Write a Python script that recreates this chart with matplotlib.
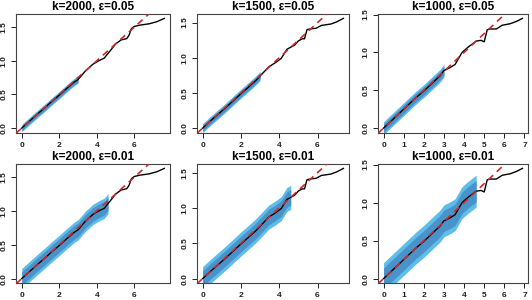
import numpy as np
import matplotlib
matplotlib.use("Agg")
import matplotlib.pyplot as plt
from matplotlib.ticker import FixedLocator, FormatStrFormatter

# ---- data ----
k_values = [2000, 1500, 1000]
eps_values = [0.05, 0.01]

x2000 = [0, 0.4, 0.8, 1.2, 1.6, 2.0, 2.4, 2.8, 3.0, 3.4, 3.8, 4.1, 4.4, 4.6, 4.75, 5.0, 5.3, 5.6, 5.72, 5.85, 6.0, 6.3, 6.8, 7.2, 7.6]
y2000 = [0, 0.10, 0.20, 0.295, 0.395, 0.49, 0.59, 0.685, 0.72, 0.85, 0.95, 1.00, 1.04, 1.11, 1.16, 1.25, 1.31, 1.33, 1.38, 1.48, 1.51, 1.53, 1.55, 1.58, 1.63]

x1500 = [0, 0.4, 0.8, 1.2, 1.6, 2.0, 2.4, 2.75, 3.0, 3.45, 3.8, 4.1, 4.4, 4.6, 4.8, 5.0, 5.2, 5.32, 5.45, 5.6, 5.93, 6.2, 6.7, 7.0, 7.35]
y1500 = [0, 0.10, 0.195, 0.29, 0.39, 0.49, 0.585, 0.67, 0.74, 0.87, 0.93, 0.99, 1.12, 1.15, 1.18, 1.24, 1.27, 1.27, 1.40, 1.41, 1.42, 1.46, 1.48, 1.51, 1.56]

x1000 = [0, 0.4, 0.8, 1.2, 1.6, 2.0, 2.4, 2.8, 3.0, 3.3, 3.55, 3.9, 4.2, 4.45, 4.6, 4.85, 5.0, 5.15, 5.3, 5.6, 5.9, 6.3, 6.6, 6.9]
y1000 = [0, 0.10, 0.20, 0.30, 0.40, 0.49, 0.59, 0.69, 0.76, 0.80, 0.84, 1.00, 1.07, 1.12, 1.15, 1.16, 1.14, 1.30, 1.31, 1.31, 1.36, 1.38, 1.41, 1.45]

curves_x = [x2000, x1500, x1000]
curves_y = [y2000, y1500, y1000]

# band half-widths (outer, inner) per eps row, per k column
band_outer = [[0.055, 0.065, 0.085], [0.15, 0.17, 0.21]]
band_inner = [[0.035, 0.042, 0.055], [0.10, 0.11, 0.14]]
band_end = [3.0, 4.6]

ref_slope = 0.25
xticks_cols = [[0, 2, 4, 6], [0, 2, 4, 6], [0, 1, 2, 3, 4, 5, 6, 7]]
yticks = [0.0, 0.5, 1.0, 1.5]

# ---- figure ----
W, H = 532, 300
fig = plt.figure(figsize=(W / 100, H / 100), dpi=100)
plt.rcParams['font.family'] = ['Liberation Sans', 'DejaVu Sans']

cols_px = [(16, 170), (197, 349), (378, 528)]
rows_px = [(14, 132.5), (164, 283)]

light = '#5ebde9'
dark = '#4993ca'

for r, eps in enumerate(eps_values):
    for c, k in enumerate(k_values):
        l, rr = cols_px[c]
        t, b = rows_px[r]
        ax = fig.add_axes([l / W, 1 - b / H, (rr - l) / W, (b - t) / H])
        xs = np.array(curves_x[c])
        ys = np.array(curves_y[c])
        m = xs <= band_end[r] + 1e-9
        bx, by = xs[m], ys[m]
        ax.fill_between(bx, by - band_outer[r][c], by + band_outer[r][c],
                        color=light, lw=0, zorder=1)
        ax.fill_between(bx, by - band_inner[r][c], by + band_inner[r][c],
                        color=dark, lw=0, zorder=2)
        ax.plot(xs, ys, color='black', lw=1.0, zorder=3)
        xmax = xs.max()
        ymax = ys.max()
        xlim = (-0.04 * xmax, 1.04 * xmax)
        ylim = (-0.04 * ymax, 1.04 * ymax)
        ax.plot(list(xlim), [ref_slope * v for v in xlim], color='#cc2a2a',
                lw=1.2, ls=(0, (4, 3)), zorder=4)
        ax.set_xlim(xlim)
        ax.set_ylim(ylim)
        ax.xaxis.set_major_locator(FixedLocator(xticks_cols[c]))
        ax.yaxis.set_major_locator(FixedLocator(yticks))
        ax.yaxis.set_major_formatter(FormatStrFormatter('%.1f'))
        ax.tick_params(direction='out', length=3.5, width=0.7, labelsize=6,
                       colors='#222222', pad=3)
        ax.tick_params(axis='y', pad=2.5)
        for lab in ax.get_xticklabels():
            lab.set_fontweight('bold')
        for lab in ax.get_yticklabels():
            lab.set_fontweight('bold')
            lab.set_rotation(90)
            lab.set_va('center')
        for s in ax.spines.values():
            s.set_color('#444444')
            s.set_linewidth(0.8)
        ax.set_title(f'k={k}, ε={eps}', fontsize=8.5, fontweight='bold', pad=3)

fig.savefig('out.png', dpi=100)
